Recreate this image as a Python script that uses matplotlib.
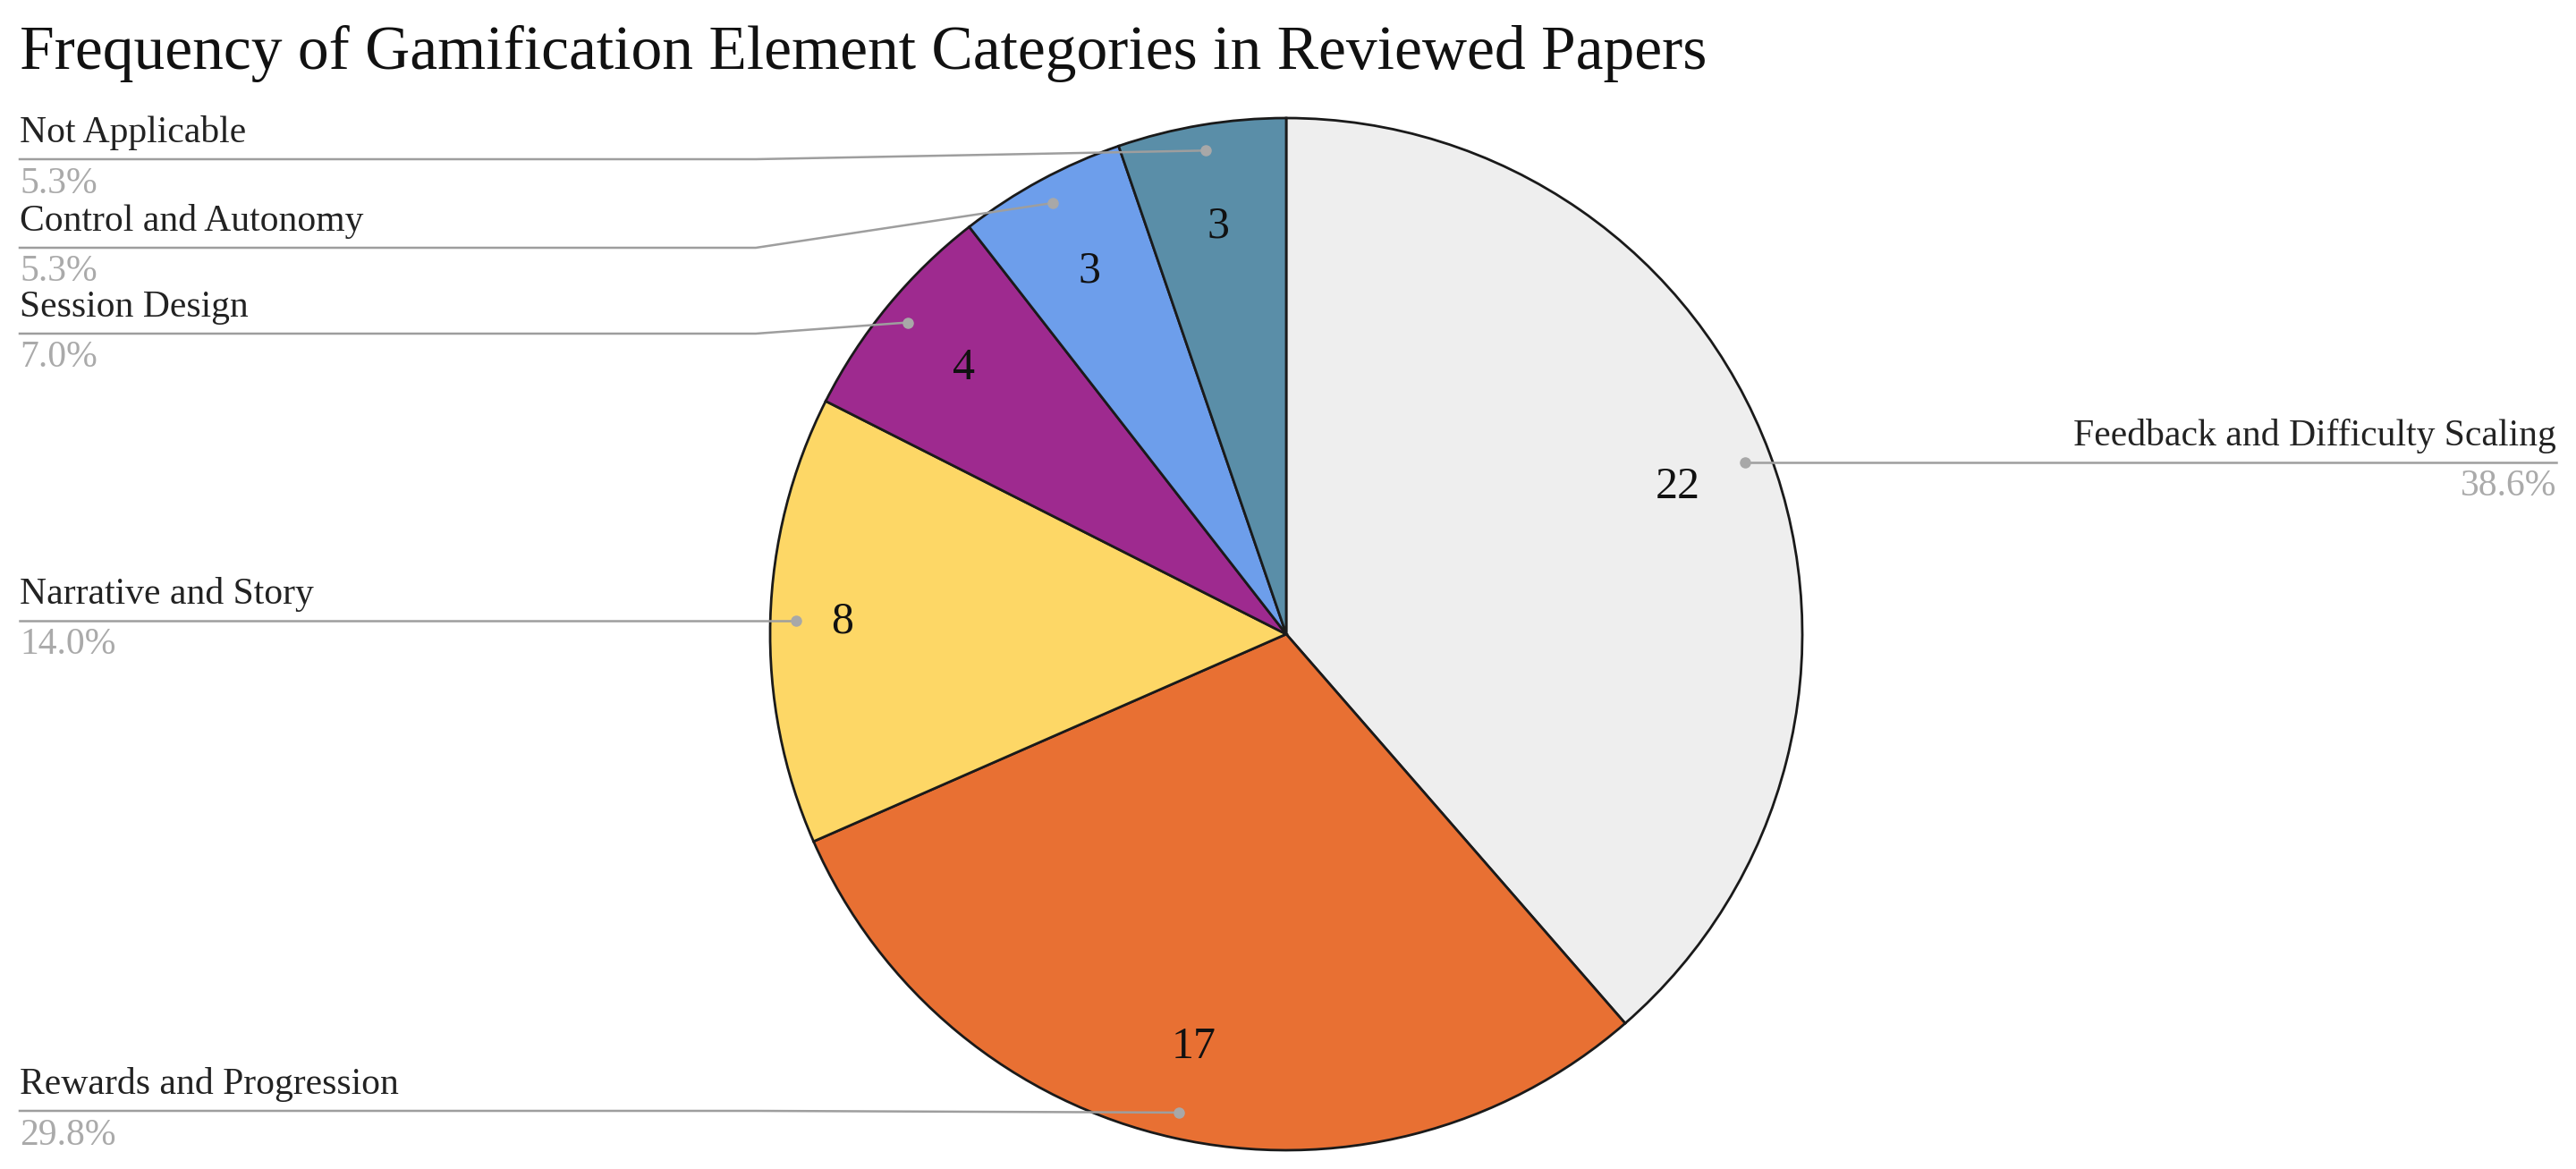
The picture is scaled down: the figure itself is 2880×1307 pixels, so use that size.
import numpy as np
import matplotlib
matplotlib.use("Agg")
import matplotlib.pyplot as plt

# ======================
# DATA
# ======================
categories = ["Feedback and Difficulty Scaling", "Rewards and Progression",
              "Narrative and Story", "Session Design",
              "Control and Autonomy", "Not Applicable"]
counts = [22, 17, 8, 4, 3, 3]
colors = ["#EEEEEE", "#E87033", "#FDD766", "#9E2A8F", "#6D9EEB", "#5A8EA8"]

title = "Frequency of Gamification Element Categories in Reviewed Papers"

# ======================
# LAYOUT (pixel space, y from top)
# ======================
W, H = 2880, 1307
cx, cy, R = 1438, 709, 577
label_line_y = {"Not Applicable": 178, "Control and Autonomy": 277,
                "Session Design": 373, "Narrative and Story": None,
                "Rewards and Progression": 1242,
                "Feedback and Difficulty Scaling": None}
num_dist = [0.81, 0.82, 0.86, 0.81, 0.80, 0.80]
elbow_x = 845
left_x = 22
right_x = 2858

plt.rcParams["font.family"] = ["Liberation Serif", "DejaVu Serif"]

fig = plt.figure(figsize=(W / 100, H / 100), dpi=100)
ax = fig.add_axes([0, 0, 1, 1])
ax.set_xlim(0, W)
ax.set_ylim(0, H)
ax.axis("off")

total = sum(counts)
wedges, texts = ax.pie(
    counts, colors=colors, startangle=90, counterclock=False,
    center=(cx, H - cy), radius=R,
    wedgeprops=dict(edgecolor="#1a1a1a", linewidth=2.0),
)
ax.set_xlim(0, W)
ax.set_ylim(0, H)
ax.set_aspect("auto")

line_col = "#9E9E9E"
for w, name, c, nd in zip(wedges, categories, counts, num_dist):
    mid = np.deg2rad((w.theta1 + w.theta2) / 2)
    # count inside slice
    ax.text(cx + nd * R * np.cos(mid), (H - cy) + nd * R * np.sin(mid), str(c),
            ha="center", va="center", fontsize=36, color="#111111", zorder=7)

    dx = cx + 0.95 * R * np.cos(mid)
    dy = (H - cy) + 0.95 * R * np.sin(mid)
    pct = f"{c / total * 100:.1f}%"
    ly = label_line_y[name]
    if name.startswith("Feedback"):
        ax.plot([dx, right_x], [dy, dy], color=line_col, lw=1.8, zorder=5)
        ax.plot(dx, dy, "o", color="#A8A8A8", ms=8, zorder=6)
        ax.text(right_x, dy + 10, name, ha="right", va="bottom", fontsize=30, color="#222222")
        ax.text(right_x, dy - 8, pct, ha="right", va="top", fontsize=30, color="#AAAAAA")
        continue
    if ly is None:
        yl = dy
        xs, ys = [left_x, dx], [yl, dy]
    else:
        yl = H - ly
        xs, ys = [left_x, elbow_x, dx], [yl, yl, dy]
    ax.plot(xs, ys, color=line_col, lw=1.8, zorder=5)
    ax.plot(dx, dy, "o", color="#A8A8A8", ms=8, zorder=6)
    ax.text(left_x, yl + 10, name, ha="left", va="bottom", fontsize=30, color="#222222")
    ax.text(left_x, yl - 8, pct, ha="left", va="top", fontsize=30, color="#AAAAAA")

ax.text(left_x, H - 77, title, ha="left", va="baseline", fontsize=50, color="#111111")

fig.savefig("out.png", dpi=100, facecolor="white")
